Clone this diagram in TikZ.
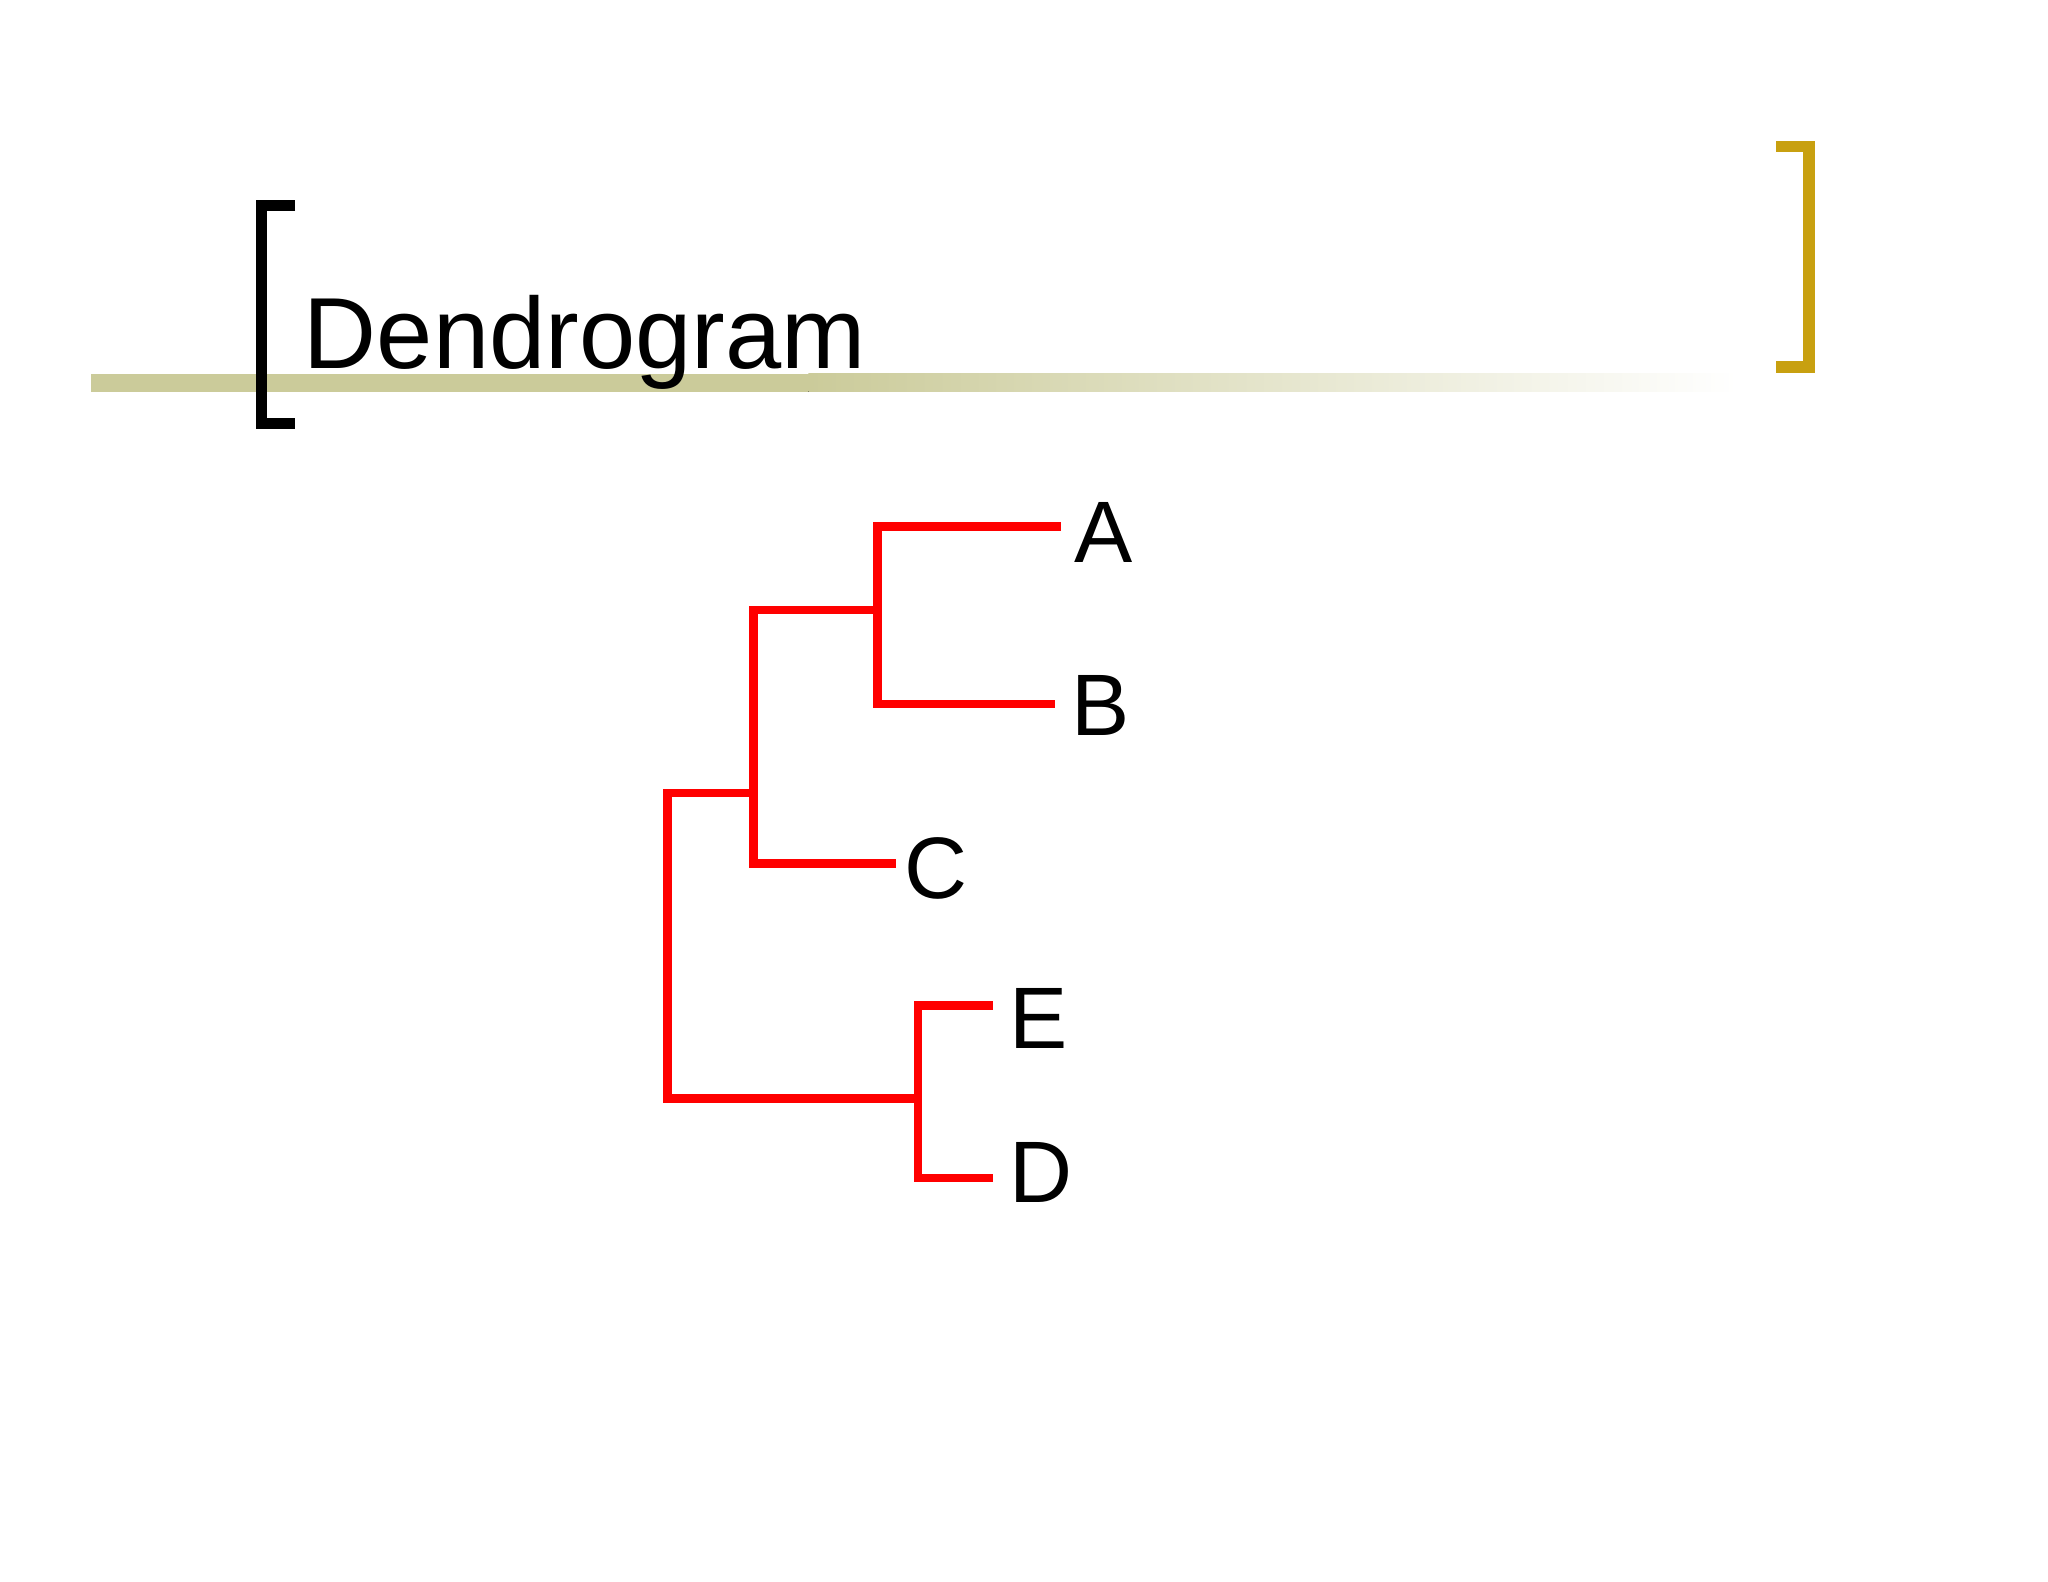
\documentclass[tikz,border=0pt]{standalone}
\usepackage{fontspec}
\setmainfont{Liberation Sans}
\begin{document}
\begin{tikzpicture}[x=0.01cm,y=-0.01cm,
  br/.style={line width=0.085cm,line cap=butt},
  tree/.style={red,line width=0.065cm,line cap=butt,line join=miter},
  lab/.style={anchor=west,inner sep=0,font=\fontsize{19}{19}\selectfont}]
\definecolor{gold}{HTML}{C8A010}
\definecolor{olive}{HTML}{CBCB9A}
\useasboundingbox (0,0) rectangle (1568,1211);
\fill[white] (0,0) rectangle (1568,1211);
\fill[olive] (70,286) rectangle (620,300);
\fill[left color=olive,right color=white] (619,286) rectangle (1330,300);
\draw[br] (226,157) -| (200,324) -- (226,324);
\draw[br,gold] (1360,112) -| (1385,281) -- (1360,281);
\node[anchor=base west,inner sep=0,font=\fontsize{22}{22}\selectfont] (title) at (232,282) {Dendrogram};
\coordinate (a) at (812,403); \coordinate (b) at (808,539);
\coordinate (c) at (686,661); \coordinate (e) at (760,770); \coordinate (d) at (760,902);
\coordinate (ab) at (672,467); \coordinate (abc) at (577,607); \coordinate (ed) at (703,841);
\draw[tree] (a) -| (ab |- b) -- (b);
\draw[tree] (ab) -- (abc |- ab) -- (abc |- c) -- (c);
\draw[tree] (abc) -- (511,607) |- (ed);
\draw[tree] (e) -| (ed |- d) -- (d);
\node[lab] (A) at (822,408) {A};
\node[lab] (B) at (820,540) {B};
\node[lab] (C) at (692,665) {C};
\node[lab] (E) at (772,780) {E};
\node[lab] (D) at (772,898) {D};
\end{tikzpicture}
\end{document}
